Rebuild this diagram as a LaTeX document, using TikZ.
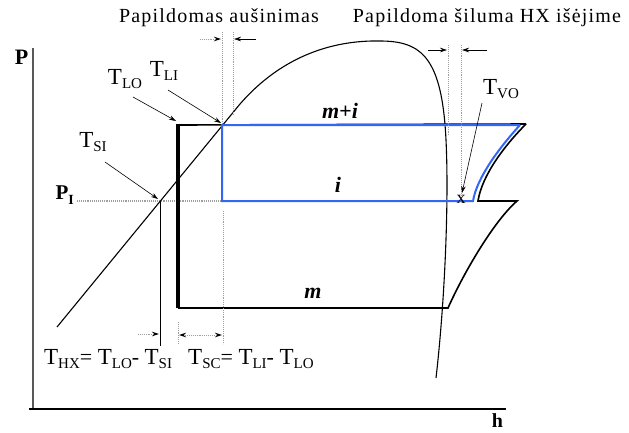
\documentclass[tikz,border=0pt]{standalone}
\usepackage{fontspec}
\setmainfont{Liberation Serif}
\usetikzlibrary{arrows.meta}
\definecolor{cycblue}{RGB}{51,102,245}
\newcommand{\Tlab}[1]{{\fontsize{23}{23}\selectfont T}\raisebox{-0.45ex}{\fontsize{15}{15}\selectfont #1}}
\tikzset{
  lab/.style={inner sep=0pt, font=\fontsize{22}{22}\selectfont},
  head/.style={inner sep=0pt, font=\fontsize{20}{20}\selectfont\addfontfeatures{LetterSpace=6}},
  guide/.style={gray!75, line width=0.9pt, densely dotted},
  ptr/.style={black, line width=0.6pt, -{Stealth[length=7pt,width=4.5pt]}},
  dptr/.style={guide, -{Stealth[length=7pt,width=4.5pt,black]}},
  cyc/.style={cycblue, line width=2pt},
  blk/.style={black, line width=1.6pt},
  dome/.style={black, line width=1.1pt},
  flowlab/.style={inner sep=0pt, font=\fontsize{22}{22}\selectfont\bfseries\itshape}
}
\begin{document}
\begin{tikzpicture}[x=1pt,y=-1pt]
\useasboundingbox (0,0) rectangle (629,432);
% axes
\coordinate (ytop) at (33,48);
\coordinate (orig) at (33,409);
\coordinate (xend) at (506,409);
\draw[gray!70!black, line width=1.3pt] (ytop) -- (orig);
\draw[black, line width=2.2pt] (29,409) -- (xend);
\node[lab, font=\fontsize{22}{22}\selectfont\bfseries] (Plab) at (21.5,57.5) {P};
\node[lab, font=\fontsize{20}{20}\selectfont\bfseries] (hlab) at (497.5,421) {h};
% P_I line
\coordinate (pia) at (77,201);
\coordinate (pib) at (222,201);
\draw[guide, line width=1.2pt] (pia) -- (pib);
\node[lab, font=\fontsize{21}{21}\selectfont\bfseries, anchor=east] (PIlab) at (74,195) {P\raisebox{-0.5ex}{\fontsize{14}{14}\selectfont I}};
% dome
\coordinate (d0) at (57,327);
\coordinate (d1) at (240,104);
\coordinate (dpk) at (380,41);
\coordinate (d2) at (446,140);
\coordinate (d3) at (436,378);
\draw[dome] (d0) -- (d1) .. controls (280,58) and (330,40) .. (dpk)
  .. controls (422,41) and (442,58) .. (d2)
  .. controls (449,200) and (445,300) .. (d3);
% cycle black parts
\coordinate (a1) at (178,125);
\coordinate (a2) at (222,125);
\coordinate (a3) at (178,308);
\coordinate (a4) at (448,308);
\coordinate (a5) at (517,201);
\coordinate (a6) at (478,201);
\coordinate (a7) at (526,124);
\draw[black, line width=3.2pt] (178,123.5) -- (a3);
\draw[blk] (a1) -- (a7);
\draw[blk] (a3) -- (a4) .. controls (465,270) and (495,220) .. (a5) -- (a6)
  .. controls (482,175) and (505,145) .. (a7);
% blue cycle
\coordinate (b1) at (222,125);
\coordinate (b2) at (520,125);
\coordinate (b3) at (222,201);
\coordinate (b4) at (473,201);
\draw[cyc] (b2) -- (b1) -- (b3) -- (b4) .. controls (477,177) and (500,147) .. (b2);
% guides top-left
\coordinate (g1t) at (222,32);
\coordinate (g2t) at (233,32);
\coordinate (g2b) at (233,114);
\draw[guide] (g1t) -- (b1);
\draw[guide] (g2t) -- (g2b);
\coordinate (ar1s) at (200,39);
\coordinate (ar1e) at (221,39);
\coordinate (ar2s) at (256,39);
\coordinate (ar2e) at (234,39);
\draw[dptr] (ar1s) -- (ar1e);
\draw[ptr] (ar2s) -- (ar2e);
\node[head] (hd1) at (219,18) {Papildomas aušinimas};
% guides top-right
\coordinate (g3t) at (448,45);
\coordinate (g3b) at (448,135);
\coordinate (g4t) at (461,45);
\coordinate (xm) at (461,199);
\draw[guide] (g3t) -- (g3b);
\draw[guide] (g4t) -- (xm);
\coordinate (ar3s) at (428,50);
\coordinate (ar3e) at (447,50);
\coordinate (ar4s) at (487,50);
\coordinate (ar4e) at (462,50);
\draw[ptr] (ar3s) -- (ar3e);
\draw[ptr] (ar4s) -- (ar4e);
\node[head] (hd2) at (487,18) {Papildoma šiluma HX išėjime};
\node[inner sep=0pt, font=\fontsize{18}{18}\selectfont] (xmark) at (xm) {x};
% labels with pointers
\node[lab] (TLO) at (125,79) {\Tlab{LO}};
\node[lab] (TLI) at (164,71) {\Tlab{LI}};
\node[lab] (TSI) at (93,142) {\Tlab{SI}};
\node[lab] (TVO) at (501,89) {\Tlab{VO}};
\coordinate (p1s) at (133,97);
\coordinate (p1e) at (176,121);
\coordinate (p2s) at (168,90);
\coordinate (p2e) at (221,123);
\coordinate (p3s) at (105,162);
\coordinate (p3e) at (158,199);
\coordinate (p4s) at (482,103);
\coordinate (p4e) at (462,193);
\draw[ptr] (p1s) -- (p1e);
\draw[ptr] (p2s) -- (p2e);
\draw[ptr] (p3s) -- (p3e);
\draw[ptr] (p4s) -- (p4e);
% flow labels
\node[flowlab] (mi) at (340,111) {m+i};
\node[flowlab] (ilab) at (338,185) {i};
\node[flowlab] (mlab) at (313,293) {m};
% bottom measurement lines
\coordinate (v1t) at (160,201);
\coordinate (v1b) at (160,346);
\draw[black, line width=1pt] (v1t) -- (v1b);
\coordinate (v2t) at (223,211);
\coordinate (v2b) at (223,344);
\draw[guide] (v2t) -- (v2b);
\coordinate (v3t) at (178,322);
\coordinate (v3b) at (178,344);
\draw[guide] (v3t) -- (v3b);
\coordinate (ar5s) at (138,334);
\coordinate (ar5e) at (159,334);
\draw[dptr] (ar5s) -- (ar5e);
\coordinate (ar6s) at (179,335);
\coordinate (ar6e) at (222,335);
\draw[guide, {Stealth[length=7pt,width=4.5pt,black]}-{Stealth[length=7pt,width=4.5pt,black]}] (ar6s) -- (ar6e);
\node[lab, anchor=west] (fHX) at (44,359) {\Tlab{HX}= \Tlab{LO}- \Tlab{SI}};
\node[lab, anchor=west] (fSC) at (188,359) {\Tlab{SC}= \Tlab{LI}- \Tlab{LO}};
\end{tikzpicture}
\end{document}
